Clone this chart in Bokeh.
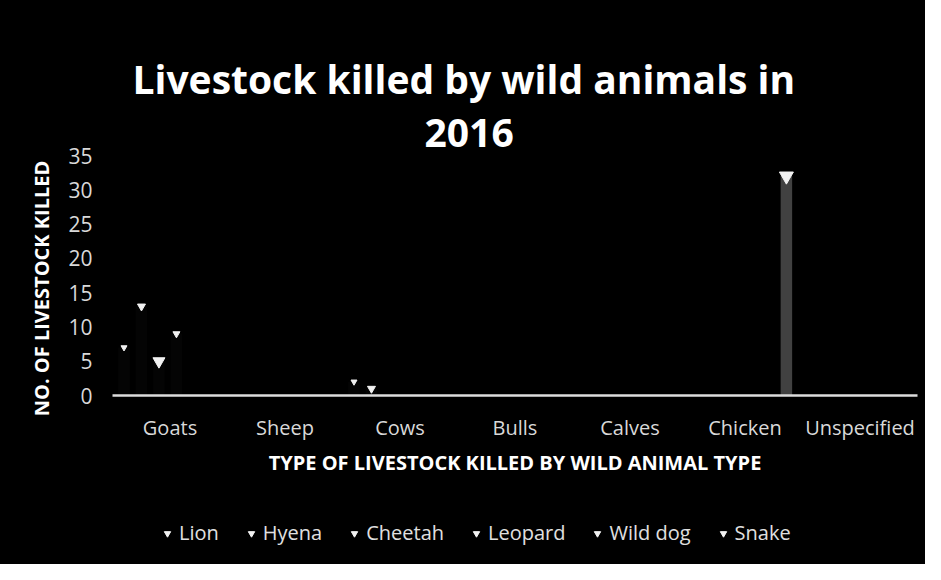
from bokeh.plotting import figure
from bokeh.layouts import column
from bokeh.models import (FactorRange, Range1d, Legend, LegendItem, Title,
                          ColumnDataSource, FixedTicker)
from bokeh.transform import dodge
from bokeh.embed import file_html
from bokeh.resources import INLINE

categories = ["Goats", "Sheep", "Cows", "Bulls", "Calves", "Chicken", "Unspecified"]
series_names = ["Lion", "Hyena", "Cheetah", "Leopard", "Wild dog", "Snake"]
lion = [7, 0, 2, 0, 0, 0, 0]
hyena = [13, 0, 1, 0, 0, 0, 0]
cheetah = [5, 0, 0, 0, 0, 0, 0]
leopard = [9, 0, 0, 0, 0, 0, 0]
wild_dog = [0, 0, 0, 0, 0, 0, 0]
snake = [0, 0, 0, 0, 0, 32, 0]
y_ticks = [0, 5, 10, 15, 20, 25, 30, 35]

series_values = [lion, hyena, cheetah, leopard, wild_dog, snake]
offsets = [-0.40, -0.248, -0.096, 0.056, 0.208, 0.36]
marker_sizes = [6, 8, 12, 7, 9, 14]
bar_colors = ["#040404", "#040404", "#040404", "#040404", "#000000", "#4c4c4c"]
bar_alphas = [1.0, 1.0, 1.0, 1.0, 0.0, 0.85]

FONT = "Open Sans"
BG = "#000000"

p = figure(width=925, height=500,
           x_range=FactorRange(factors=categories, range_padding=0),
           y_range=Range1d(0, 35),
           output_backend="svg", toolbar_location=None,
           title="Livestock killed by wild animals in",
           min_border_left=112, min_border_right=8,
           min_border_top=155, min_border_bottom=105,
           background_fill_color=BG, border_fill_color=None,
           styles={"background-color": BG},
           outline_line_color=None)

p.title.text_font = FONT
p.title.text_font_size = "39px"
p.title.text_font_style = "bold"
p.title.text_color = "#ffffff"
p.title.align = "left"
p.title.offset = 20
p.title.standoff = 5

t2 = Title(text="2016", text_font=FONT,
           text_font_size="39px", text_font_style="bold", text_color="#ffffff",
           align="left", offset=312, standoff=18)
p.add_layout(t2, "above")

p.xgrid.grid_line_color = None
p.ygrid.grid_line_color = None

xa = p.xaxis[0]
xa.axis_line_color = "#dcdcdc"
xa.axis_line_width = 2.5
xa.major_tick_line_color = None
xa.minor_tick_line_color = None
xa.major_label_text_font = FONT
xa.major_label_text_font_size = "20px"
xa.major_label_text_color = "#d9d9d9"
xa.major_label_standoff = 12
xa.axis_label = "TYPE OF LIVESTOCK KILLED BY WILD ANIMAL TYPE"
xa.axis_label_text_font = FONT
xa.axis_label_text_font_size = "20px"
xa.axis_label_text_font_style = "bold"
xa.axis_label_text_color = "#ffffff"
xa.axis_label_standoff = 5

ya = p.yaxis[0]
ya.ticker = FixedTicker(ticks=y_ticks)
ya.axis_line_color = None
ya.major_tick_line_color = None
ya.minor_tick_line_color = None
ya.major_label_text_font = FONT
ya.major_label_text_font_size = "21px"
ya.major_label_text_color = "#d9d9d9"
ya.major_label_standoff = 14
ya.axis_label = "NO. OF LIVESTOCK KILLED" + "\u00a0" * 5
ya.axis_label_text_font = FONT
ya.axis_label_text_font_size = "20px"
ya.axis_label_text_font_style = "bold"
ya.axis_label_text_color = "#ffffff"
ya.axis_label_standoff = 10

# separate strip below the chart that carries the legend
q = figure(width=925, height=64,
           x_range=p.x_range, y_range=Range1d(100, 101),
           output_backend="svg", toolbar_location=None,
           x_axis_location=None, y_axis_location=None,
           min_border=0, background_fill_color=BG, border_fill_color=None,
           styles={"background-color": BG},
           outline_line_color=None)
q.xgrid.grid_line_color = None
q.ygrid.grid_line_color = None

items = []
for name, vals, off, ms, bc, ba in zip(series_names, series_values, offsets,
                                        marker_sizes, bar_colors, bar_alphas):
    src = ColumnDataSource(dict(
        cat=categories,
        val=vals,
        msize=[ms if v > 0 else 0 for v in vals],
    ))
    xd = dodge("cat", off, range=p.x_range)
    p.vbar(x=xd, top="val", width=0.1, source=src,
           fill_color=bc, fill_alpha=ba, line_color=None)
    p.scatter(x=xd, y="val", size="msize", source=src,
              marker="inverted_triangle", fill_color="#f2f2f2",
              line_color="#f2f2f2")
    # same series in the legend strip (its y range lies above all values)
    r = q.scatter(x=xd, y="val", size="msize", source=src,
                  marker="inverted_triangle", fill_color="#f2f2f2",
                  line_color="#f2f2f2")
    items.append(LegendItem(label=name, renderers=[r]))

legend = Legend(items=items, orientation="horizontal",
                location=(47, 18),
                label_text_font=FONT, label_text_font_size="20px",
                label_text_color="#e0e0e0", glyph_width=16, glyph_height=16,
                label_standoff=4, spacing=24,
                padding=0, margin=0,
                background_fill_alpha=0, border_line_alpha=0)
q.add_layout(legend, "center")

layout = column(p, q, spacing=0, styles={"background-color": BG})
open("out.html", "w").write(file_html(layout, INLINE))
